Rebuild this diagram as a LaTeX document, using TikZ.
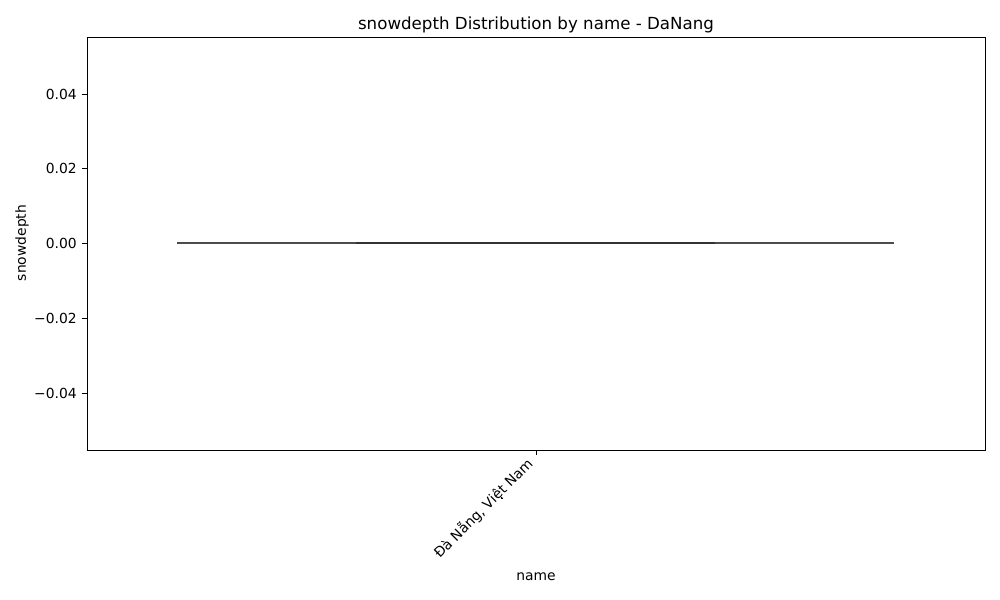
\documentclass[tikz,border=0pt]{standalone}
\usepackage{fontspec}
\setmainfont{DejaVu Sans}
\begin{document}
\begin{tikzpicture}[x=0.75pt,y=-0.75pt,
  lab/.style={font=\fontsize{10.4}{12}\selectfont, inner sep=0pt},
  tick/.style={line width=0.6pt}]
\useasboundingbox (0,0) rectangle (1000,600);
\fill[white] (0,0) rectangle (1000,600);
% axes frame
\coordinate (tl) at (87,37);
\coordinate (br) at (985,450);
\draw[line width=0.6pt] (tl) rectangle (br);
% y ticks
\foreach \v/\y in {0.04/94,0.02/168.5,0.00/243,−0.02/318,−0.04/393}{
  \draw[tick] (87,\y) -- (82.2,\y);
  \node[lab,anchor=east] (yt\y) at (77,\y) {\v};
}
% x tick
\draw[tick] (536,450) -- (536,454.8);
\node[lab,anchor=north east,rotate=45] (xt) at (525,456) {Đà Nẵng, Việt Nam};
% data lines
\coordinate (w1) at (177,243);
\coordinate (b1) at (356,243);
\coordinate (b2) at (715,243);
\coordinate (w2) at (894,243);
\draw[line width=1.1pt,color=black!70] (w1) -- (w2);
\draw[line width=1.2pt,color=black!80] (b1) -- (b2);
% labels
\node[font=\fontsize{12.5}{14}\selectfont,inner sep=0pt] (title) at (536,25) {snowdepth Distribution by name - DaNang};
\node[lab] (xl) at (536,577) {name};
\node[lab,rotate=90] (yl) at (22,243) {snowdepth};
\end{tikzpicture}
\end{document}
